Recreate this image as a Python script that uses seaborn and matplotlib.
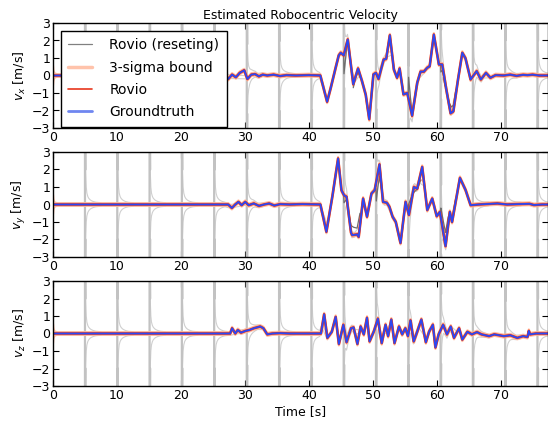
import numpy as np
import pandas as pd
import matplotlib
matplotlib.use("Agg")
import matplotlib.pyplot as plt
from matplotlib.lines import Line2D
import seaborn as sns

# ---------------- data ----------------
reset_times = [5.0, 10.05, 15.1, 20.15, 25.2, 30.3, 35.35, 40.4, 45.45,
               50.5, 55.55, 60.6, 65.65, 70.7, 75.75]

# 3-sigma profile of the resetting filter after each reset (offset s, sigma m/s)
reset_sig_off = [0, 0, 0.05, 0.1, 0.2, 0.3, 0.45, 0.6, 0.8, 1.0, 1.3, 1.7, 2.5, 5.1]
reset_sig_val = [0.09, 12, 5, 2.0, 1.0, 0.65, 0.45, 0.35, 0.27, 0.22, 0.17, 0.13, 0.1, 0.09]

# 3-sigma of Rovio at the start
rovio_sig_t = [0, 0.05, 0.1, 0.2, 0.35, 0.6]
rovio_sig_v = [0.55, 0.35, 0.25, 0.15, 0.1, 0.08]
rovio_sig_steady = 0.08

vx_t = [0, 27.0, 27.4, 28.0, 28.6, 29.2, 29.9, 30.4, 31.0, 31.6,
        32.2, 32.8, 33.5, 34.5, 35.5, 36.5, 38.0, 40.0, 41.8, 42.86,
        43.4, 43.9, 44.2, 44.68, 45.0, 45.46, 46.09, 46.95, 47.7, 48.3,
        48.9, 49.45, 50.1, 50.5, 50.9, 51.7, 52.1, 52.67, 53.3, 53.8,
        54.2, 54.8, 55.4, 56.15, 56.95, 57.47, 57.99, 58.51, 58.9, 59.55,
        60.34, 60.86, 61.5, 62.17, 62.6, 63.3, 64.0, 64.5, 65.3, 66.25,
        66.9, 67.7, 68.4, 69.2, 70.5, 71.5, 72.5, 73.5, 74.2, 75.0,
        76.0, 77.5]
vx_v = [0, 0.0, -0.2, 0.05, -0.1, 0.15, 0.3, -0.2, 0.05, 0.08,
        -0.05, 0.05, 0.0, 0.05, -0.03, 0.02, 0.0, 0.02, 0.0, -1.5,
        -0.75, 0.0, 0.45, 1.15, 1.3, 1.15, 2.06, -0.5, 0.4, -0.3,
        -1.1, -2.5, 0.06, 0.15, -0.2, 0.91, 0.95, 2.3, 0.34, -0.13,
        0.4, -1.08, -1.0, -2.3, -0.42, 0.22, 0.22, 0.44, 0.53, 2.34,
        0.63, 0.63, -0.8, -2.16, -2.05, -0.3, 1.3, 0.98, -0.23, 0.25,
        -0.23, 0.15, -0.13, 0.02, 0.0, 0.05, -0.02, 0.04, 0.02, 0.05,
        0.0, 0.0]

vy_t = [0, 27.4, 27.97, 28.5, 29.0, 29.5, 30.05, 30.6, 31.4, 32.2,
        33.0, 33.8, 34.6, 35.5, 37, 39, 41.81, 42.75, 43.7, 44.58,
        45.1, 45.5, 45.9, 46.6, 46.77, 47.55, 47.8, 48.49, 49.1, 49.8,
        50.3, 51.05, 51.6, 52.2, 52.6, 53.1, 53.6, 54.34, 55.13, 55.65,
        56.43, 56.95, 57.73, 58.52, 59.3, 60.0, 60.5, 61.38, 62.05, 62.4,
        63.63, 64.52, 65.3, 66.5, 68.0, 69.5, 71.0, 72.5, 74.5, 75.2,
        76.5, 77.5]
vy_v = [0, 0, -0.2, 0.0, 0.15, -0.04, 0.15, -0.04, 0.06, -0.08,
        0.0, 0.06, -0.06, 0.02, 0.0, 0.02, 0.0, -1.56, 0.5, 2.63,
        0.82, 0.53, 0.44, -1.6, -1.75, -1.71, -1.85, 0.34, -0.7, 0.63,
        0.82, 2.29, 0.15, 0.1, -0.13, -0.7, -1.0, -2.2, 0.15, -0.6,
        1.0, 0.9, 2.15, -0.32, 0.34, -0.67, -0.42, -2.38, -0.42, -1.0,
        1.52, 0.82, -0.04, 0.0, 0.03, 0.06, 0.0, 0.02, 0.04, -0.03,
        0.0, 0.0]

vz_t = [0, 27.7, 28.0, 28.5, 28.9, 29.4, 30.1, 30.7, 31.4, 32.4,
        32.9, 33.5, 34.3, 35.5, 37, 39, 41.9, 42.4, 42.9, 43.6,
        44.2, 44.7, 45.4, 45.9, 46.6, 47.0, 47.6, 48.1, 48.6, 49.1,
        49.5, 50.2, 50.8, 51.4, 52.0, 52.4, 52.9, 53.4, 54.1, 54.6,
        55.1, 55.5, 55.9, 56.4, 56.9, 57.6, 58.3, 58.8, 59.4, 59.8,
        60.3, 61.0, 61.6, 62.2, 62.7, 63.5, 64.0, 64.8, 65.5, 66.3,
        67.0, 68.2, 69.0, 70.5, 71.5, 72.6, 73.5, 74.2, 74.4, 74.6,
        75.5, 77.5]
vz_v = [0, 0, 0.3, 0.0, 0.2, 0.05, 0.15, 0.2, 0.3, 0.4,
        0.3, -0.05, 0.0, 0.02, 0.0, 0.0, 0.0, 1.1, -0.25, 0.1,
        0.95, -0.6, 0.5, -0.5, 0.3, 0.35, -0.6, 0.4, -0.05, 0.9,
        -0.45, 0.15, 0.85, -0.55, 0.5, -0.15, 0.8, -0.55, 0.4, -0.05,
        0.3, -0.15, 0.75, -0.45, 0.05, 0.8, -0.5, 0.1, 0.5, -0.8,
        -0.05, 0.5, -0.05, 0.4, -0.25, 0.3, -0.35, 0.1, -0.05, 0.08,
        -0.05, -0.15, -0.05, -0.15, -0.1, -0.25, -0.15, -0.2, 0.15, -0.05,
        0.0, 0.0]

# Rovio (reseting) segments where it visibly departs from the groundtruth
vx_gray = [([45.45, 45.5, 45.7, 45.9, 46.09], [1.15, 0.1, 0.8, 1.5, 2.0]),
           ([46.95, 47.3, 47.7, 48.0], [-0.7, -0.1, 0.2, -0.1]),
           ([55.4, 55.55, 55.6, 55.9, 56.15], [-1.0, -1.0, -0.1, -1.3, -2.2]),
           ([60.34, 60.6, 60.65, 60.9, 61.3], [0.63, 0.63, 0.2, 0.3, -0.6]),
           ([61.6, 62.0, 62.3, 62.6, 63.0], [-1.0, -1.6, -1.8, -1.7, -0.8])]
vy_gray = [([45.45, 45.5, 45.9, 46.6, 47.0, 47.55, 48.0], [0.6, 0.1, 0.3, -1.2, -1.3, -1.35, -0.5]),
           ([50.3, 50.5, 50.55, 50.8, 51.05, 51.6], [0.82, 0.9, 0.2, 1.0, 1.6, 0.3]),
           ([55.4, 55.55, 55.6, 56.0, 56.43, 57.0, 57.5], [-0.3, -0.2, 0.0, 0.4, 0.7, 0.9, 1.4]),
           ([60.5, 60.6, 60.65, 61.0, 61.38, 61.8, 62.4, 63.0], [-0.42, -0.42, -0.2, -0.9, -1.6, -0.7, -0.8, 0.4])]
vz_gray = [([55.5, 55.55, 55.6, 55.9, 56.4], [-0.1, -0.1, 0.2, 0.5, -0.3])]

y_labels = ["$v_x$ [m/s]", "$v_y$ [m/s]", "$v_z$ [m/s]"]
x_ticks = [0, 10, 20, 30, 40, 50, 60, 70]
y_ticks = [-3, -2, -1, 0, 1, 2, 3]
legend_labels = ["Rovio (reseting)", "3-sigma bound", "Rovio", "Groundtruth"]

# ---------------- styling ----------------
sns.set_theme(style="white")
plt.rcParams.update({
    "font.family": ["DejaVu Sans"],
    "font.size": 9,
    "axes.edgecolor": "black",
    "axes.linewidth": 1.0,
    "xtick.direction": "in", "ytick.direction": "in",
    "xtick.top": True, "ytick.right": True,
    "xtick.bottom": True, "ytick.left": True,
    "xtick.major.size": 4, "ytick.major.size": 4,
    "xtick.major.width": 0.8, "ytick.major.width": 0.8,
    "xtick.color": "black", "ytick.color": "black",
    "xtick.labelsize": 9, "ytick.labelsize": 9,
    "axes.labelsize": 9, "axes.titlesize": 9,
    "text.color": "black", "axes.labelcolor": "black",
})

C_GRAY = "#6e6e6e"
C_LGRAY = "#cfcfcf"
C_VGRAY = "#c2c2c2"
C_SALMON = "#ffb598"
C_RED = "#f0300c"
C_BLUE = "#2a48f5"

fig = plt.figure(figsize=(5.48, 4.23), dpi=100)
left, width, height = 53 / 548, 495 / 548, 105 / 423
bottoms = [1 - 128 / 423, 1 - 257 / 423, 1 - 386 / 423]
axes = [fig.add_axes([left, b, width, height]) for b in bottoms]

series = [(vx_t, vx_v, vx_gray), (vy_t, vy_v, vy_gray), (vz_t, vz_v, vz_gray)]
seg_starts = [0.0] + reset_times
N_VERT = 4  # first profile points form the near-vertical reset spike

for ax, (tt, vv, gsegs), ylab in zip(axes, series, y_labels):
    tt = np.asarray(tt, float)
    vv = np.asarray(vv, float)
    # resetting filter 3-sigma bounds (light gray)
    for i, r in enumerate(seg_starts):
        if i == 0:
            off = np.asarray(rovio_sig_t + [5.0], float)
            sig = np.asarray(rovio_sig_v + [rovio_sig_steady], float)
        else:
            off = np.asarray(reset_sig_off, float)
            sig = np.asarray(reset_sig_val, float)
        bt = r + off
        nxt = seg_starts[i + 1] if i + 1 < len(seg_starts) else 80.0
        keep = bt <= nxt
        bt, sig = bt[keep], sig[keep]
        center = np.interp(bt, tt, vv)
        for sgn in (1, -1):
            yb = center + sgn * sig
            if i == 0:
                sns.lineplot(x=bt, y=yb, ax=ax, color=C_LGRAY, lw=0.8,
                             sort=False, estimator=None, legend=False)
                continue
            sns.lineplot(x=bt[N_VERT - 1:], y=yb[N_VERT - 1:], ax=ax,
                         color=C_LGRAY, lw=0.8, sort=False, estimator=None,
                         legend=False)
            sns.lineplot(x=bt[:N_VERT], y=yb[:N_VERT], ax=ax, color=C_VGRAY,
                         lw=1.6, sort=False, estimator=None, legend=False)
    # Rovio 3-sigma bound (salmon)
    for sgn in (1, -1):
        sns.lineplot(x=tt, y=vv + sgn * rovio_sig_steady, ax=ax, color=C_SALMON,
                     lw=1.6, alpha=0.9, sort=False, estimator=None, legend=False)
        sns.lineplot(x=rovio_sig_t, y=[sgn * s for s in rovio_sig_v], ax=ax,
                     color=C_SALMON, lw=1.6, alpha=0.9, sort=False,
                     estimator=None, legend=False)
    # Rovio (reseting) visible departures
    for gt, gv in gsegs:
        sns.lineplot(x=gt, y=gv, ax=ax, color=C_GRAY, lw=0.9, sort=False,
                     estimator=None, legend=False)
    # Rovio estimate and groundtruth
    sns.lineplot(x=tt, y=vv, ax=ax, color=C_RED, lw=1.9, sort=False,
                 estimator=None, legend=False)
    sns.lineplot(x=tt, y=vv, ax=ax, color=C_BLUE, lw=1.3, sort=False,
                 estimator=None, legend=False)

    ax.set_xlim(0, 77.4)
    ax.set_ylim(-3, 3)
    ax.set_xticks(x_ticks)
    ax.set_yticks(y_ticks)
    ax.set_ylabel(ylab, labelpad=3)
    ax.set_xlabel("")
    ax.tick_params(axis="both", which="major", pad=2)
    for s in ax.spines.values():
        s.set_visible(True)
        s.set_color("black")

axes[0].set_title("Estimated Robocentric Velocity", pad=3)
axes[2].set_xlabel("Time [s]", labelpad=2)

handles = [Line2D([], [], color="#808080", lw=0.9),
           Line2D([], [], color="#ffc3ab", lw=2.5),
           Line2D([], [], color="#e8361c", lw=1.2),
           Line2D([], [], color="#6f86f0", lw=2.0)]
leg = axes[0].legend(handles, legend_labels, loc="upper left", fontsize=10,
                     frameon=True, fancybox=False, shadow=False,
                     edgecolor="black", framealpha=1, borderpad=0.55,
                     labelspacing=0.6, handlelength=1.7, handletextpad=1.25,
                     borderaxespad=0.55)
leg.get_frame().set_linewidth(1.0)

fig.savefig("out.png", dpi=100)
